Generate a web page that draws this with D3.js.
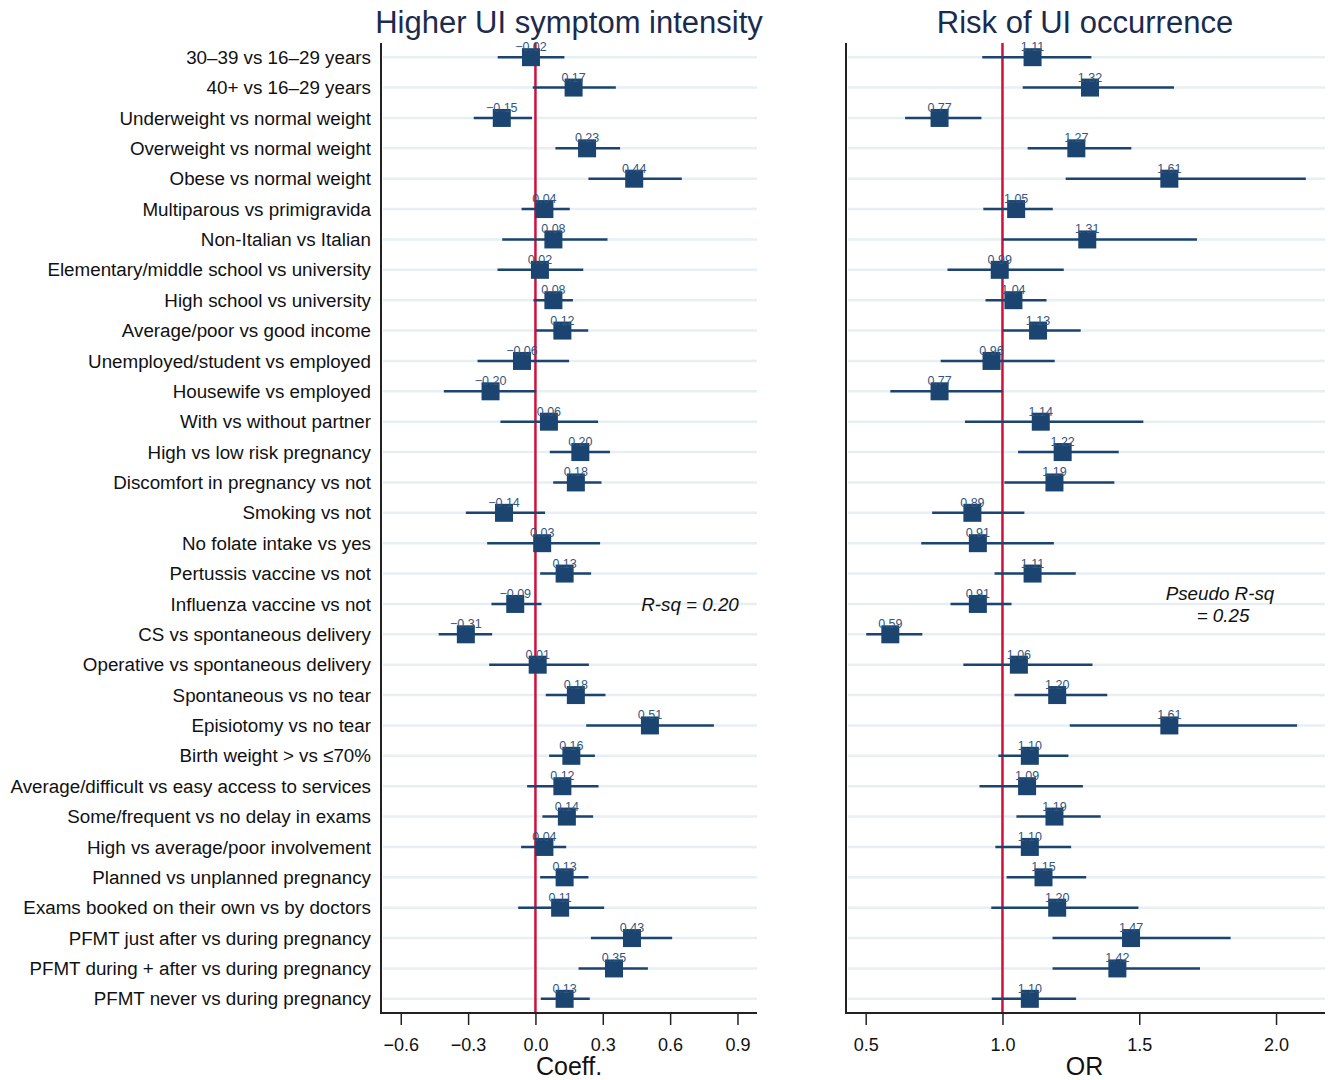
<!DOCTYPE html>
<html>
<head>
<meta charset="utf-8">
<script src="https://cdn.jsdelivr.net/npm/d3@7"></script>
<style>
  body { margin: 0; background: #fff; }
  text { font-family: "Liberation Sans", Arial, sans-serif; }
</style>
</head>
<body>
<svg id="chart" width="1329" height="1080"></svg>
<script>
let labels = ["30\u201339 vs 16\u201329 years", "40+ vs 16\u201329 years", "Underweight vs normal weight",
  "Overweight vs normal weight", "Obese vs normal weight", "Multiparous vs primigravida",
  "Non-Italian vs Italian", "Elementary/middle school vs university", "High school vs university",
  "Average/poor vs good income", "Unemployed/student vs employed", "Housewife vs employed",
  "With vs without partner", "High vs low risk pregnancy", "Discomfort in pregnancy vs not",
  "Smoking vs not", "No folate intake vs yes", "Pertussis vaccine vs not", "Influenza vaccine vs not",
  "CS vs spontaneous delivery", "Operative vs spontaneous delivery", "Spontaneous vs no tear",
  "Episiotomy vs no tear", "Birth weight > vs \u226470%", "Average/difficult vs easy access to services",
  "Some/frequent vs no delay in exams", "High vs average/poor involvement", "Planned vs unplanned pregnancy",
  "Exams booked on their own vs by doctors", "PFMT just after vs during pregnancy",
  "PFMT during + after vs during pregnancy", "PFMT never vs during pregnancy"];

// left panel: linear regression coefficients
let coef   = [-0.02, 0.17, -0.15, 0.23, 0.44, 0.04, 0.08, 0.02, 0.08, 0.12, -0.06, -0.20, 0.06, 0.20, 0.18, -0.14,
  0.03, 0.13, -0.09, -0.31, 0.01, 0.18, 0.51, 0.16, 0.12, 0.14, 0.04, 0.13, 0.11, 0.43, 0.35, 0.13];
let coefLo = [-0.168, -0.012, -0.275, 0.089, 0.236, -0.062, -0.148, -0.169, -0.009, 0.003, -0.258, -0.408, -0.156, 0.064, 0.079, -0.310,
  -0.215, 0.021, -0.196, -0.431, -0.206, 0.046, 0.226, 0.061, -0.037, 0.031, -0.064, 0.021, -0.077, 0.247, 0.192, 0.024];
let coefHi = [0.129, 0.358, -0.015, 0.377, 0.652, 0.153, 0.321, 0.213, 0.167, 0.235, 0.150, 0.003, 0.279, 0.332, 0.294, 0.043,
  0.288, 0.248, 0.027, -0.193, 0.238, 0.312, 0.795, 0.265, 0.281, 0.257, 0.137, 0.236, 0.306, 0.609, 0.501, 0.242];

// right panel: odds ratios
let or   = [1.11, 1.32, 0.77, 1.27, 1.61, 1.05, 1.31, 0.99, 1.04, 1.13, 0.96, 0.77, 1.14, 1.22, 1.19, 0.89,
  0.91, 1.11, 0.91, 0.59, 1.06, 1.20, 1.61, 1.10, 1.09, 1.19, 1.10, 1.15, 1.20, 1.47, 1.42, 1.10];
let orLo = [0.926, 1.074, 0.644, 1.092, 1.231, 0.930, 1.001, 0.799, 0.938, 1.001, 0.774, 0.590, 0.863, 1.057, 1.007, 0.743,
  0.703, 0.971, 0.810, 0.502, 0.857, 1.044, 1.246, 0.985, 0.916, 1.051, 0.974, 1.015, 0.959, 1.183, 1.183, 0.961];
let orHi = [1.325, 1.627, 0.923, 1.471, 2.109, 1.184, 1.711, 1.224, 1.161, 1.286, 1.191, 1.000, 1.515, 1.425, 1.409, 1.080,
  1.188, 1.268, 1.033, 0.707, 1.329, 1.383, 2.077, 1.241, 1.294, 1.359, 1.251, 1.306, 1.497, 1.834, 1.722, 1.269];

let coefTicks = [-0.6, -0.3, 0, 0.3, 0.6, 0.9];
let orTicks = [0.5, 1.0, 1.5, 2.0];

let navy = "#1b4470";
let svg = d3.select("#chart");

let y = d3.scaleBand().domain(d3.range(labels.length)).range([42, 1014]);
let yc = i => y(i) + y.bandwidth() / 2;
let plotTop = 43, plotBottom = 1013;

// category labels
svg.append("g").selectAll("text")
    .data(labels)
    .enter().append("text")
    .attr("x", 371)
    .attr("y", (d, i) => yc(i))
    .attr("dy", "0.35em")
    .attr("text-anchor", "end")
    .attr("font-size", 18.8)
    .attr("fill", "#111")
    .text(d => d);

function drawPanel(opt) {
    let x = d3.scaleLinear().domain(opt.domain).range([opt.left, opt.right]);
    let g = svg.append("g");

    // grid lines
    g.selectAll(".grid")
        .data(labels)
        .enter().append("line")
        .attr("x1", opt.left + 2)
        .attr("x2", opt.right)
        .attr("y1", (d, i) => yc(i))
        .attr("y2", (d, i) => yc(i))
        .attr("stroke", "#e7eff3")
        .attr("stroke-width", 2.5);

    // reference line
    g.append("line")
        .attr("x1", x(opt.ref)).attr("x2", x(opt.ref))
        .attr("y1", plotTop).attr("y2", plotBottom)
        .attr("stroke", "#d0103a")
        .attr("stroke-width", 2.5);

    // confidence intervals
    g.selectAll(".ci")
        .data(opt.est)
        .enter().append("line")
        .attr("x1", (d, i) => x(opt.lo[i]))
        .attr("x2", (d, i) => x(opt.hi[i]))
        .attr("y1", (d, i) => yc(i))
        .attr("y2", (d, i) => yc(i))
        .attr("stroke", navy)
        .attr("stroke-width", 2.5);

    // point estimates
    let s = 18;
    g.selectAll(".pt")
        .data(opt.est)
        .enter().append("rect")
        .attr("x", d => x(d) - s / 2)
        .attr("y", (d, i) => yc(i) - s / 2)
        .attr("width", s)
        .attr("height", s)
        .attr("fill", navy);

    g.selectAll(".val")
        .data(opt.est)
        .enter().append("text")
        .attr("x", d => x(d))
        .attr("y", (d, i) => yc(i) - 6)
        .attr("text-anchor", "middle")
        .attr("font-size", 12.5)
        .attr("fill", "#34567d")
        .text(d => d3.format(".2f")(d));

    // axes
    let axis = g.append("g")
        .attr("transform", "translate(0," + plotBottom + ")")
        .call(d3.axisBottom(x).tickValues(opt.ticks).tickFormat(d3.format(".1f")).tickSize(12).tickPadding(13));
    axis.select(".domain").remove();
    axis.selectAll(".tick line").attr("stroke", "#222").attr("stroke-width", 1.5);
    axis.selectAll(".tick text").attr("font-size", 18).attr("fill", "#111")
        .style("font-family", "Liberation Sans, Arial, sans-serif");

    g.append("path")
        .attr("d", "M" + opt.left + "," + plotTop + "V" + plotBottom + "H" + opt.right)
        .attr("fill", "none")
        .attr("stroke", "#222")
        .attr("stroke-width", 2);

    g.append("text")
        .attr("x", x(opt.titleAt))
        .attr("y", 1075)
        .attr("text-anchor", "middle")
        .attr("font-size", 25)
        .attr("fill", "#111")
        .text(opt.xTitle);

    g.append("text")
        .attr("x", opt.titleX)
        .attr("y", 33)
        .attr("text-anchor", "middle")
        .attr("font-size", 31)
        .attr("fill", "#1a2b4f")
        .text(opt.title);

    let note = g.append("text")
        .attr("text-anchor", "middle")
        .attr("font-size", 18.8)
        .attr("font-style", "italic")
        .attr("fill", "#111");
    opt.note.forEach((t, k) => {
        note.append("tspan")
            .attr("x", opt.noteX + (k ? 3 : 0))
            .attr("y", opt.noteY + k * 22)
            .text(t);
    });
}

drawPanel({
    domain: [-0.688, 0.987], left: 381, right: 757, ref: 0,
    est: coef, lo: coefLo, hi: coefHi, ticks: coefTicks,
    title: "Higher UI symptom intensity", titleX: 569, xTitle: "Coeff.", titleAt: 0.15,
    note: ["R-sq = 0.20"], noteX: 690, noteY: 611
});

drawPanel({
    domain: [0.428, 2.179], left: 846, right: 1325, ref: 1,
    est: or, lo: orLo, hi: orHi, ticks: orTicks,
    title: "Risk of UI occurrence", titleX: 1085, xTitle: "OR", titleAt: 1.3,
    note: ["Pseudo R-sq", "= 0.25"], noteX: 1220, noteY: 600
});
</script>
</body>
</html>
